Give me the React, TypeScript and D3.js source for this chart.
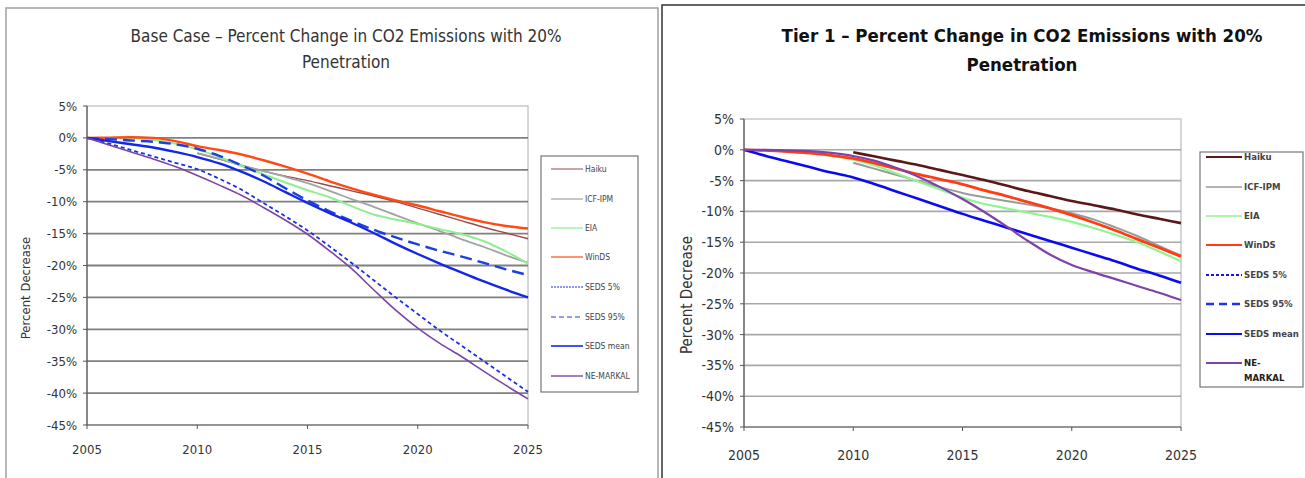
import React from "react";
import * as d3 from "d3";

const years = d3.range(2005, 2026);
const yTicks = [5, 0, -5, -10, -15, -20, -25, -30, -35, -40, -45];
const xTicks = [2005, 2010, 2015, 2020, 2025];
const seriesNames = ["Haiku", "ICF-IPM", "EIA", "WinDS", "SEDS 5%", "SEDS 95%", "SEDS mean", "NE-MARKAL"];

const N = null;
// Base Case values (percent), 2005..2025
const baseHaiku = [N, N, N, N, N, -2.4, -3.3, -4.3, -5.2, -6.0, -6.7, -7.5, -8.3, -9.1, -10.0, -11.0, -12.0, -13.0, -14.0, -14.9, -15.8];
const baseICF = [N, N, N, N, N, -2.4, -3.3, -4.3, -5.2, -6.1, -7.1, -8.3, -9.6, -10.8, -12.1, -13.4, -14.6, -15.9, -17.1, -18.4, -19.6];
const baseEIA = [0, 0, 0, -0.3, -0.9, -1.8, -3.0, -4.4, -5.7, -7.0, -8.2, -9.3, -10.7, -12.0, -12.8, -13.5, -14.3, -15.1, -16.2, -17.8, -19.7];
const baseWinDS = [0, 0.05, 0.1, 0, -0.5, -1.3, -1.9, -2.6, -3.5, -4.5, -5.6, -6.8, -7.9, -8.9, -9.8, -10.6, -11.5, -12.4, -13.2, -13.8, -14.2];
const baseSeds5 = [0, -0.9, -1.9, -2.9, -3.9, -4.9, -6.4, -8.1, -10.2, -12.3, -14.5, -17.0, -19.6, -22.3, -25.0, -27.6, -30.2, -32.6, -35.0, -37.4, -39.8];
const baseSeds95 = [0, -0.2, -0.4, -0.6, -1.0, -1.7, -2.8, -4.3, -5.9, -7.9, -9.8, -11.5, -13.0, -14.4, -15.6, -16.7, -17.7, -18.6, -19.6, -20.6, -21.5];
const baseSedsMean = [0, -0.5, -1.0, -1.5, -2.2, -3.0, -4.0, -5.3, -6.8, -8.5, -10.2, -11.8, -13.3, -14.9, -16.6, -18.2, -19.7, -21.1, -22.5, -23.8, -25.0];
const baseNE = [0, -1.1, -2.2, -3.3, -4.5, -5.9, -7.4, -9.0, -10.9, -12.9, -15.1, -17.7, -20.5, -23.8, -27.0, -29.8, -32.2, -34.3, -36.6, -38.8, -40.9];

// Tier 1 values (percent), 2005..2025
const t1Haiku = [N, N, N, N, N, -0.4, -1.1, -1.8, -2.5, -3.3, -4.1, -4.9, -5.8, -6.7, -7.5, -8.3, -9.0, -9.7, -10.5, -11.2, -11.9];
const t1ICF = [N, N, N, N, N, -2.1, -3.1, -4.1, -5.1, -6.1, -7.0, -7.7, -8.3, -8.9, -9.5, -10.3, -11.3, -12.6, -14.0, -15.6, -17.2];
const t1EIA = [0, -0.1, -0.3, -0.6, -1.0, -1.6, -2.6, -3.9, -5.2, -6.5, -7.8, -8.8, -9.5, -10.2, -10.9, -11.7, -12.7, -13.8, -15.0, -16.5, -18.1];
const t1WinDS = [0, -0.1, -0.3, -0.5, -0.9, -1.4, -2.2, -3.1, -4.0, -4.8, -5.6, -6.6, -7.5, -8.5, -9.5, -10.6, -11.8, -13.1, -14.5, -15.9, -17.3];
const t1Seds5: (number | null)[] = [];
const t1Seds95: (number | null)[] = [];
const t1SedsMean = [0, -1.0, -1.9, -2.8, -3.7, -4.5, -5.6, -6.8, -8.0, -9.2, -10.4, -11.5, -12.6, -13.7, -14.8, -15.9, -17.0, -18.1, -19.3, -20.4, -21.6];
const t1NE = [0, 0, -0.1, -0.2, -0.5, -1.0, -1.8, -3.0, -4.4, -6.1, -8.0, -10.1, -12.4, -14.8, -17.0, -18.7, -19.9, -21.0, -22.1, -23.2, -24.4];

type Style = { color: string; width: number; dash?: string; lw?: number; ldash?: string };

const baseStyles: Style[] = [
  { color: "#9a4a48", width: 1.4, lw: 1 },
  { color: "#a3a3a3", width: 1.8, lw: 1.2 },
  { color: "#8fef8f", width: 2, lw: 1.2 },
  { color: "#ff4a14", width: 2.4, lw: 1.2 },
  { color: "#1c2fe6", width: 1.8, dash: "4,3", lw: 1, ldash: "2,1" },
  { color: "#1c3fe0", width: 2.4, dash: "12,6", lw: 1.2, ldash: "5,3" },
  { color: "#1527e6", width: 2.4, lw: 1.6 },
  { color: "#7a45a8", width: 1.6, lw: 1.4 },
];
const t1Styles: Style[] = [
  { color: "#5a1818", width: 2.6, lw: 2 },
  { color: "#9a9a9a", width: 2, lw: 1.6 },
  { color: "#8ff58f", width: 2.2, lw: 1.6 },
  { color: "#ff3c14", width: 2.8, lw: 2 },
  { color: "#1414f0", width: 2, dash: "3,2", lw: 2, ldash: "3,2" },
  { color: "#2233ee", width: 2.6, dash: "10,5", lw: 2.6, ldash: "8,5" },
  { color: "#0a0af5", width: 2.6, lw: 2 },
  { color: "#8042a8", width: 2.2, lw: 1.8 },
];

type Cfg = {
  title: string[];
  titleX: number;
  titleY: number[];
  titleSize: number;
  titleWeight: number;
  titleColor: string;
  x0: number; x1: number; y0: number; y1: number;
  tickSize: number;
  xLabY: number;
  yTitleX: number; yTitleY: number; yTitleSize: number;
  legend: { x: number; y: number; w: number; h: number; items: number[]; lx0: number; lx1: number; tx: number; size: number; weight: number };
  data: (number | null)[][];
  styles: Style[];
  gridColor: string;
  gridWidth: number;
};

function Panel({ c }: { c: Cfg }) {
  const x = d3.scaleLinear().domain([2005, 2025]).range([c.x0, c.x1]);
  const y = d3.scaleLinear().domain([5, -45]).range([c.y0, c.y1]);
  const line = d3
    .line<[number, number | null]>()
    .defined((d) => d[1] !== null)
    .x((d) => x(d[0]))
    .y((d) => y(d[1] as number))
    .curve(d3.curveMonotoneX);
  const font = "'DejaVu Sans Condensed', 'Liberation Sans Narrow', 'Open Sans', sans-serif";
  return (
    <g fontFamily={font}>
      {c.title.map((t, i) => (
        <text key={i} x={c.titleX} y={c.titleY[i]} textAnchor="middle" fontSize={c.titleSize} fontWeight={c.titleWeight} fill={c.titleColor}>
          {t}
        </text>
      ))}
      <rect x={c.x0} y={c.y0} width={c.x1 - c.x0} height={c.y1 - c.y0} fill="none" stroke="#c8c8c8" strokeWidth={1.5} />
      {yTicks.map((t) => (
        <g key={t}>
          {t !== 5 && t !== -45 && (
            <line x1={c.x0} x2={c.x1} y1={y(t)} y2={y(t)} stroke={c.gridColor} strokeWidth={c.gridWidth} />
          )}
          <line x1={c.x0 - 4} x2={c.x0} y1={y(t)} y2={y(t)} stroke="#555" strokeWidth={1} />
          <text x={c.x0 - 10} y={y(t)} dy="0.35em" textAnchor="end" fontSize={c.tickSize} fill="#333">
            {t + "%"}
          </text>
        </g>
      ))}
      <line x1={c.x0} x2={c.x1} y1={c.y1} y2={c.y1} stroke="#555" strokeWidth={1.2} />
      <line x1={c.x0} x2={c.x0} y1={c.y0} y2={c.y1} stroke="#555" strokeWidth={1.2} />
      {xTicks.map((t) => (
        <g key={t}>
          <line x1={x(t)} x2={x(t)} y1={c.y1} y2={c.y1 + 4} stroke="#555" strokeWidth={1} />
          <text x={x(t)} y={c.xLabY} dy="0.35em" textAnchor="middle" fontSize={c.tickSize} fill="#333">
            {t}
          </text>
        </g>
      ))}
      <text
        transform={`translate(${c.yTitleX},${c.yTitleY}) rotate(-90)`}
        textAnchor="middle"
        fontSize={c.yTitleSize}
        fill="#333"
      >
        Percent Decrease
      </text>
      {c.data.map((vals, i) => {
        const pts: [number, number | null][] = vals.map((v, k) => [years[k], v]);
        if (!pts.length) return null;
        const s = c.styles[i];
        return (
          <path key={i} d={line(pts) || ""} fill="none" stroke={s.color} strokeWidth={s.width} strokeDasharray={s.dash} strokeLinejoin="round" />
        );
      })}
      <rect x={c.legend.x} y={c.legend.y} width={c.legend.w} height={c.legend.h} fill="#fff" stroke="#777" strokeWidth={1.2} />
      {seriesNames.map((n, i) => {
        const s = c.styles[i];
        const yy = c.legend.items[i];
        const twoLine = c.legend.w < 110 && n === "NE-MARKAL" && c.legend.weight > 500;
        return (
          <g key={n}>
            <line x1={c.legend.lx0} x2={c.legend.lx1} y1={yy} y2={yy} stroke={s.color} strokeWidth={s.lw} strokeDasharray={s.ldash} />
            {twoLine ? (
              <text x={c.legend.tx} y={yy} dy="0.35em" fontSize={c.legend.size} fontWeight={c.legend.weight} fill="#222">
                <tspan x={c.legend.tx}>NE-</tspan>
                <tspan x={c.legend.tx} dy="1.5em">MARKAL</tspan>
              </text>
            ) : (
              <text x={c.legend.tx} y={yy} dy="0.35em" fontSize={c.legend.size} fontWeight={c.legend.weight} fill="#444">
                {n}
              </text>
            )}
          </g>
        );
      })}
    </g>
  );
}

const baseCfg: Cfg = {
  title: ["Base Case – Percent Change in CO2 Emissions with 20%", "Penetration"],
  titleX: 346,
  titleY: [42, 68],
  titleSize: 17,
  titleWeight: 400,
  titleColor: "#333",
  x0: 87, x1: 528, y0: 106, y1: 425,
  tickSize: 13,
  xLabY: 449,
  yTitleX: 30, yTitleY: 288, yTitleSize: 13,
  legend: { x: 541, y: 156, w: 97, h: 236, items: [169, 199, 228, 257, 287, 317, 346, 376], lx0: 551, lx1: 583, tx: 585, size: 8.5, weight: 400 },
  data: [baseHaiku, baseICF, baseEIA, baseWinDS, baseSeds5, baseSeds95, baseSedsMean, baseNE],
  styles: baseStyles,
  gridColor: "#808080",
  gridWidth: 1.8,
};

const t1Cfg: Cfg = {
  title: ["Tier 1 – Percent Change in CO2 Emissions with 20%", "Penetration"],
  titleX: 1022,
  titleY: [42, 71],
  titleSize: 18.5,
  titleWeight: 600,
  titleColor: "#111",
  x0: 744, x1: 1181, y0: 119, y1: 427,
  tickSize: 14,
  xLabY: 455,
  yTitleX: 692, yTitleY: 295, yTitleSize: 15,
  legend: { x: 1200, y: 152, w: 103, h: 235, items: [157, 187, 216, 245, 275, 304, 334, 363], lx0: 1206, lx1: 1242, tx: 1244, size: 9.5, weight: 600 },
  data: [t1Haiku, t1ICF, t1EIA, t1WinDS, t1Seds5, t1Seds95, t1SedsMean, t1NE],
  styles: t1Styles,
  gridColor: "#a8a8a8",
  gridWidth: 1.6,
};

export default function App() {
  return (
    <svg width={1305} height={478} style={{ position: "absolute", left: 0, top: 0, background: "#fff" }}>
      <rect x={0} y={0} width={1305} height={478} fill="#fff" />
      <rect x={6} y={8} width={652} height={480} fill="#fff" stroke="#a0a0a0" strokeWidth={1.5} />
      <rect x={662} y={5} width={650} height={480} fill="#fff" stroke="#333" strokeWidth={1.5} />
      <Panel c={baseCfg} />
      <Panel c={t1Cfg} />
    </svg>
  );
}
